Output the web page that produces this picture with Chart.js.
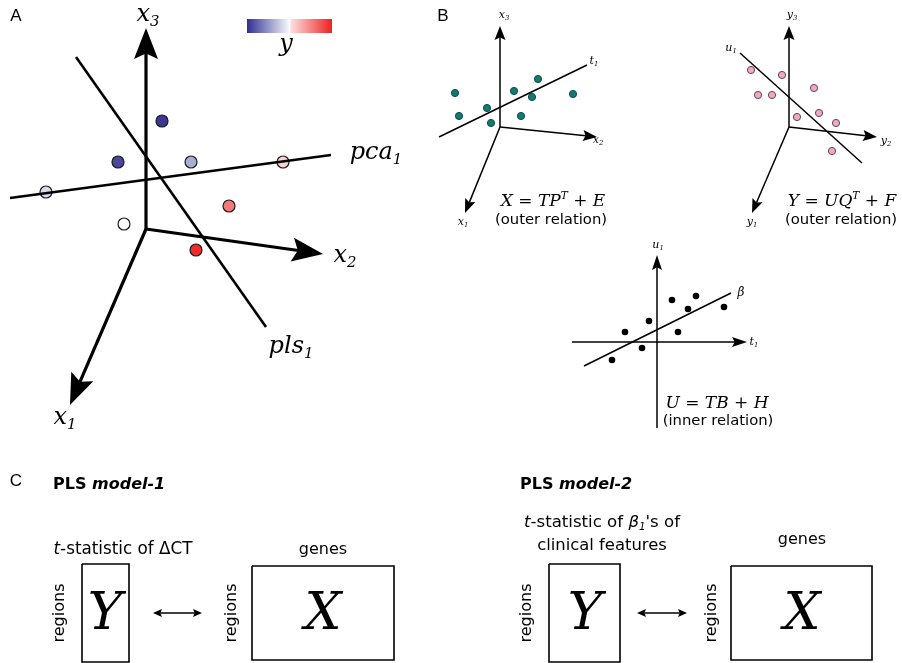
<!DOCTYPE html>
<html>
<head>
<meta charset="utf-8">
<script src="https://cdn.jsdelivr.net/npm/chart.js@4"></script>
<style>
  html, body { margin: 0; padding: 0; background: #fff; }
</style>
</head>
<body>
<canvas id="fig" width="902" height="663"></canvas>
<script>
// ---- diagram data (figure units, y grows downward) ----
// panel A: 3-D axes, samples coloured by y, pca1 / pls1 directions
const aOrigin = [146, 229];
const aAxisTips = [[70, 405], [323, 254], [146, 28]];          // x1, x2, x3
const aPca = [[10, 198], [331, 155]];
const aPls = [[76, 57], [266, 327]];
const aSamples = [[162, 121], [118, 162], [191, 162], [283, 162], [46, 192], [229, 206], [124, 224], [196, 250]];
const aSampleY = [-0.95, -0.88, -0.4, 0.2, -0.18, 0.6, -0.03, 0.95];
const colorbarSpan = [[247, 19], [332, 33]];

// panel B: outer relations (X block, Y block) and inner relation
const bxOrigin = [500, 127];
const bxAxisTips = [[465, 213], [597, 137], [500, 26]];
const bxT1 = [[439, 137], [587, 65]];
const bxSamples = [[455, 93], [459, 116], [487, 108], [491, 123], [514, 91], [521, 116], [532, 97], [538, 79], [573, 94]];

const byOrigin = [789, 127];
const byAxisTips = [[752, 213], [877, 137], [789, 26]];
const byU1 = [[740, 53], [862, 163]];
const bySamples = [[751, 70], [782, 75], [758, 95], [772, 95], [814, 88], [797, 117], [819, 113], [836, 123], [832, 151]];

const innerT = [[572, 342], [747, 342]];
const innerU = [[657, 428], [657, 255]];
const innerBeta = [[584, 366], [731, 293]];
const innerScores = [[612, 360], [625, 332], [642, 348], [649, 321], [672, 300], [678, 332], [688, 309], [696, 296], [724, 307]];

// panel C: matrix blocks for the two PLS models
const cBoxes = [[82, 564, 129, 662], [252, 566, 394, 660], [549, 564, 620, 662], [731, 566, 872, 660]];
const cLinks = [[[153, 613], [202, 613]], [[637, 613], [687, 613]]];

// ---- helpers ----
const pt = ([x, y]) => ({ x, y });

function mix(c1, c2, t) {
  const r = c1.map((v, i) => Math.round(v + (c2[i] - v) * t));
  return `rgb(${r[0]},${r[1]},${r[2]})`;
}
const BLUE = [48, 48, 144], WHITE = [255, 255, 255], RED = [238, 32, 32];
function yColor(v) {
  return v < 0 ? mix(WHITE, BLUE, -v) : mix(WHITE, RED, v);
}

// line stops short of the tip so the arrow head stays sharp
function trimmed(a, b, len) {
  const dx = b[0] - a[0], dy = b[1] - a[1], d = Math.hypot(dx, dy);
  return [b[0] - dx / d * len, b[1] - dy / d * len];
}

function lineSet(a, b, width, head, both) {
  const start = both && head ? trimmed(b, a, head[0] * 0.8) : a;
  const end = head ? trimmed(a, b, head[0] * 0.8) : b;
  return {
    data: [pt(start), pt(end)],
    showLine: true, borderColor: '#000', borderWidth: width,
    pointRadius: 0, fill: false, tension: 0,
    arrowFrom: a, arrowTo: b, head: head, both: both
  };
}

function boxSet(b) {
  const [x1, y1, x2, y2] = b;
  return {
    data: [pt([x1, y1]), pt([x2, y1]), pt([x2, y2]), pt([x1, y2]), pt([x1, y1])],
    showLine: true, borderColor: '#000', borderWidth: 1.6,
    pointRadius: 0, fill: false, tension: 0
  };
}

function dotSet(points, radius, fill, edge, edgeWidth) {
  return {
    data: points.map(pt), showLine: false,
    pointRadius: radius, pointHoverRadius: radius,
    pointBackgroundColor: fill, pointBorderColor: edge, pointBorderWidth: edgeWidth
  };
}

const datasets = [];
// A
aAxisTips.forEach(t => datasets.push(lineSet(aOrigin, t, 3.2, [31, 12])));
datasets.push(lineSet(aPca[0], aPca[1], 2.6));
datasets.push(lineSet(aPls[0], aPls[1], 2.6));
datasets.push(dotSet(aSamples, 6, aSampleY.map(yColor), '#1a1a1a', 1.2));
// B outer
bxAxisTips.forEach(t => datasets.push(lineSet(bxOrigin, t, 1.5, [14, 5.5])));
datasets.push(lineSet(bxT1[0], bxT1[1], 1.5));
datasets.push(dotSet(bxSamples, 3.6, '#137a72', '#0b4d48', 1));
byAxisTips.forEach(t => datasets.push(lineSet(byOrigin, t, 1.5, [14, 5.5])));
datasets.push(lineSet(byU1[0], byU1[1], 1.5));
datasets.push(dotSet(bySamples, 3.6, '#f4a6c8', '#5a4a52', 1));
// B inner
datasets.push(lineSet(innerT[0], innerT[1], 1.5, [15, 5]));
datasets.push(lineSet(innerU[0], innerU[1], 1.5, [15, 5]));
datasets.push(lineSet(innerBeta[0], innerBeta[1], 1.5));
datasets.push(dotSet(innerScores, 3.3, '#000', '#000', 0));
// C
cBoxes.forEach(b => datasets.push(boxSet(b)));
cLinks.forEach(l => datasets.push(lineSet(l[0], l[1], 1.6, [9, 4], true)));

// ---- text ----
const SERIF = '"DejaVu Serif"';
const SANS = '"DejaVu Sans"';
const ARIAL = '"Liberation Sans"';
// each label: parts [text, mode] where mode is '' | 'sub' | 'sup' | 'it' | 'itsub'
const labels = [
  { at: [16, 16], parts: [['A', '']], size: 17, family: ARIAL },
  { at: [443, 16], parts: [['B', '']], size: 17, family: ARIAL },
  { at: [16, 481], parts: [['C', '']], size: 17, family: ARIAL },

  { at: [148, 15], parts: [['x', ''], ['3', 'sub']], size: 24, family: SERIF, italic: true },
  { at: [345, 256], parts: [['x', ''], ['2', 'sub']], size: 24, family: SERIF, italic: true },
  { at: [65, 418], parts: [['x', ''], ['1', 'sub']], size: 24, family: SERIF, italic: true },
  { at: [376, 153], parts: [['pca', ''], ['1', 'sub']], size: 24, family: SERIF, italic: true },
  { at: [291, 347], parts: [['pls', ''], ['1', 'sub']], size: 24, family: SERIF, italic: true },
  { at: [286, 45], parts: [['y', '']], size: 24, family: SERIF, italic: true },

  { at: [504, 15], parts: [['x', ''], ['3', 'sub']], size: 11, family: SERIF, italic: true },
  { at: [598, 140], parts: [['x', ''], ['2', 'sub']], size: 11, family: SERIF, italic: true },
  { at: [463, 222], parts: [['x', ''], ['1', 'sub']], size: 11, family: SERIF, italic: true },
  { at: [594, 61], parts: [['t', ''], ['1', 'sub']], size: 11, family: SERIF, italic: true },
  { at: [553, 202], parts: [['X = TP', ''], ['T', 'sup'], [' + E', '']], size: 17, family: SERIF, italic: true },
  { at: [551, 220], parts: [['(outer relation)', '']], size: 14.8, family: SANS },

  { at: [792, 15], parts: [['y', ''], ['3', 'sub']], size: 11, family: SERIF, italic: true },
  { at: [886, 141], parts: [['y', ''], ['2', 'sub']], size: 11, family: SERIF, italic: true },
  { at: [752, 222], parts: [['y', ''], ['1', 'sub']], size: 11, family: SERIF, italic: true },
  { at: [731, 48], parts: [['u', ''], ['1', 'sub']], size: 11, family: SERIF, italic: true },
  { at: [842, 202], parts: [['Y = UQ', ''], ['T', 'sup'], [' + F', '']], size: 17, family: SERIF, italic: true },
  { at: [841, 220], parts: [['(outer relation)', '']], size: 14.8, family: SANS },

  { at: [658, 245], parts: [['u', ''], ['1', 'sub']], size: 11, family: SERIF, italic: true },
  { at: [754, 342], parts: [['t', ''], ['1', 'sub']], size: 11, family: SERIF, italic: true },
  { at: [741, 293], parts: [['β', '']], size: 12, family: SERIF, italic: true },
  { at: [717, 404], parts: [['U = TB + H', '']], size: 17, family: SERIF, italic: true },
  { at: [718, 421], parts: [['(inner relation)', '']], size: 14.8, family: SANS },

  { at: [53, 485], parts: [['PLS ', ''], ['model-1', 'it']], size: 16, family: SANS, bold: true, align: 'left' },
  { at: [123, 550], parts: [['t', 'it'], ['-statistic of ΔCT', '']], size: 16.8, family: SANS },
  { at: [323, 550], parts: [['genes', '']], size: 16, family: SANS },
  { at: [105, 615], parts: [['Y', '']], size: 52, family: SERIF, italic: true },
  { at: [323, 615], parts: [['X', '']], size: 52, family: SERIF, italic: true },
  { at: [60, 613], parts: [['regions', '']], size: 16, family: SANS, rotate: true },
  { at: [232, 613], parts: [['regions', '']], size: 16, family: SANS, rotate: true },

  { at: [520, 485], parts: [['PLS ', ''], ['model-2', 'it']], size: 16, family: SANS, bold: true, align: 'left' },
  { at: [602, 523], parts: [['t', 'it'], ['-statistic of ', ''], ['β', 'it'], ['1', 'itsub'], ["'s of", '']], size: 16.6, family: SANS },
  { at: [602, 546], parts: [['clinical features', '']], size: 16.4, family: SANS },
  { at: [802, 540], parts: [['genes', '']], size: 16, family: SANS },
  { at: [585, 615], parts: [['Y', '']], size: 52, family: SERIF, italic: true },
  { at: [802, 615], parts: [['X', '']], size: 52, family: SERIF, italic: true },
  { at: [527, 613], parts: [['regions', '']], size: 16, family: SANS, rotate: true },
  { at: [712, 613], parts: [['regions', '']], size: 16, family: SANS, rotate: true }
];

function fontFor(lab, mode) {
  const it = lab.italic || mode === 'it' || mode === 'itsub';
  const small = mode === 'sub' || mode === 'sup' || mode === 'itsub';
  const sz = small ? lab.size * 0.62 : lab.size;
  return `${it ? 'italic ' : ''}${lab.bold ? 'bold ' : ''}${sz}px ${lab.family}`;
}

function drawLabel(ctx, lab, px, py) {
  ctx.save();
  ctx.translate(px, py);
  if (lab.rotate) ctx.rotate(-Math.PI / 2);
  ctx.textBaseline = 'middle';
  ctx.fillStyle = '#000';
  let total = 0;
  const widths = lab.parts.map(([s, m]) => {
    ctx.font = fontFor(lab, m);
    const w = ctx.measureText(s).width;
    total += w;
    return w;
  });
  let x = lab.align === 'left' ? 0 : -total / 2;
  lab.parts.forEach(([s, m], i) => {
    ctx.font = fontFor(lab, m);
    let dy = 0;
    if (m === 'sub' || m === 'itsub') dy = lab.size * 0.28;
    if (m === 'sup') dy = -lab.size * 0.32;
    ctx.fillText(s, x, dy);
    x += widths[i];
  });
  ctx.restore();
}

function arrowHead(ctx, from, to, len, half) {
  const ang = Math.atan2(to[1] - from[1], to[0] - from[0]);
  ctx.save();
  ctx.translate(to[0], to[1]);
  ctx.rotate(ang);
  ctx.beginPath();
  ctx.moveTo(0, 0);
  ctx.lineTo(-len, -half);
  ctx.lineTo(-len * 0.82, 0);
  ctx.lineTo(-len, half);
  ctx.closePath();
  ctx.fillStyle = '#000';
  ctx.fill();
  ctx.restore();
}

const figurePlugin = {
  id: 'figureDecor',
  afterDatasetsDraw(chart) {
    const { ctx, scales: { x, y } } = chart;
    const P = p => [x.getPixelForValue(p[0]), y.getPixelForValue(p[1])];

    // arrow heads at the end of axis lines
    chart.data.datasets.forEach(ds => {
      if (!ds.head) return;
      const a = P(ds.arrowFrom), b = P(ds.arrowTo);
      arrowHead(ctx, a, b, ds.head[0], ds.head[1]);
      if (ds.both) arrowHead(ctx, b, a, ds.head[0], ds.head[1]);
    });

    // colour bar for y
    const c0 = P(colorbarSpan[0]), c1 = P(colorbarSpan[1]);
    const g = ctx.createLinearGradient(c0[0], 0, c1[0], 0);
    g.addColorStop(0, 'rgb(48,48,144)');
    g.addColorStop(0.49, '#f6f6fb');
    g.addColorStop(0.5, '#ffffff');
    g.addColorStop(0.515, '#fde0e0');
    g.addColorStop(1, 'rgb(238,32,32)');
    ctx.fillStyle = g;
    ctx.fillRect(c0[0], c0[1], c1[0] - c0[0], c1[1] - c0[1]);

    labels.forEach(lab => {
      const p = P(lab.at);
      drawLabel(ctx, lab, p[0], p[1]);
    });
  }
};

new Chart(document.getElementById('fig'), {
  type: 'scatter',
  data: { datasets: datasets },
  options: {
    responsive: false,
    animation: false,
    layout: { padding: 0, autoPadding: false },
    plugins: { legend: { display: false }, tooltip: { enabled: false } },
    scales: {
      x: { type: 'linear', min: 0, max: 902, display: false },
      y: { type: 'linear', min: 0, max: 663, reverse: true, display: false }
    }
  },
  plugins: [figurePlugin]
});
</script>
</body>
</html>
